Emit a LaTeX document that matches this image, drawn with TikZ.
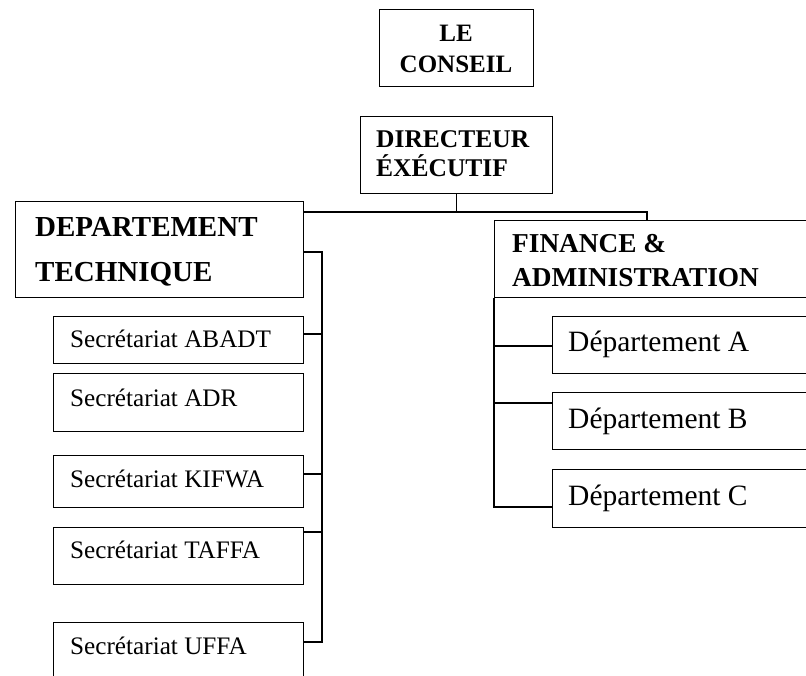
\documentclass[tikz,border=0pt]{standalone}
\usepackage{fontspec}
\setmainfont{Liberation Serif}
\begin{document}
\begin{tikzpicture}[x=1pt,y=-1pt,
  box/.style={draw,line width=1.3pt,inner sep=0pt,anchor=north west},
  ln/.style={line width=1.3pt},
  bigb/.style={anchor=base west,inner sep=0pt,font=\bfseries\fontsize{25.5}{30}\selectfont},
  bigc/.style={anchor=base,inner sep=0pt,font=\bfseries\fontsize{25}{30}\selectfont},
  hugeb/.style={anchor=base west,inner sep=0pt,font=\bfseries\fontsize{29}{34}\selectfont},
  finb/.style={anchor=base west,inner sep=0pt,font=\bfseries\fontsize{27.3}{32}\selectfont},
  sec/.style={anchor=base west,inner sep=0pt,font=\fontsize{25.2}{30}\selectfont},
  dep/.style={anchor=base west,inner sep=0pt,font=\fontsize{29.5}{34}\selectfont}]
\useasboundingbox (0,0) rectangle (806,676);
\clip (0,0) rectangle (806,676);
% boxes
\node[box,minimum width=154pt,minimum height=77pt] (conseil) at (379,9) {};
\node[box,minimum width=192pt,minimum height=77pt] (dir) at (360,116) {};
\node[box,minimum width=288pt,minimum height=96pt] (tech) at (15,201) {};
\node[box,minimum width=336pt,minimum height=77pt] (fin) at (494,220) {};
\node[box,minimum width=250pt,minimum height=47pt] (abadt) at (53,316) {};
\node[box,minimum width=250pt,minimum height=58pt] (adr) at (53,373) {};
\node[box,minimum width=250pt,minimum height=52pt] (kifwa) at (53,455) {};
\node[box,minimum width=250pt,minimum height=57pt] (taffa) at (53,527) {};
\node[box,minimum width=250pt,minimum height=78pt] (uffa) at (53,622) {};
\node[box,minimum width=278pt,minimum height=57pt] (da) at (552,316) {};
\node[box,minimum width=278pt,minimum height=57pt] (db) at (552,392) {};
\node[box,minimum width=278pt,minimum height=58pt] (dc) at (552,469) {};
% texts
\node[bigc] (t1) at (456,42) {LE};
\node[bigc] (t2) at (456,73) {CONSEIL};
\node[bigb] (t3) at (376,148) {DIRECTEUR};
\node[bigb] (t4) at (376,177) {ÉXÉCUTIF};
\node[hugeb] (t5) at (35,237) {DEPARTEMENT};
\node[hugeb] (t6) at (35,282) {TECHNIQUE};
\node[finb] (t7) at (512,253) {FINANCE \&};
\node[finb] (t8) at (512,287) {ADMINISTRATION};
\node[sec] (t9) at (70,348) {Secrétariat ABADT};
\node[sec] (t10) at (70,406) {Secrétariat ADR};
\node[sec] (t11) at (70,487) {Secrétariat KIFWA};
\node[sec] (t12) at (70,558) {Secrétariat TAFFA};
\node[sec] (t13) at (70,654) {Secrétariat UFFA};
\node[dep] (t14) at (568,352) {Département A};
\node[dep] (t15) at (568,428) {Département B};
\node[dep] (t16) at (568,505) {Département C};
% connectors
\coordinate (bus) at (dir.south |- 0,212);
\coordinate (finjoin) at (647,212);
\draw[ln] (dir.south) -- (bus);
\draw[ln] (bus -| tech.east) -- (finjoin) -- (finjoin |- fin.north);
\coordinate (spine) at (322,252);
\coordinate (s1) at (322,334);
\coordinate (s3) at (322,474);
\coordinate (s4) at (322,532);
\coordinate (s5) at (322,642);
\draw[ln] (spine -| tech.east) -- (spine) -- (s5) -- (s5 -| uffa.east);
\draw[ln] (s1 -| abadt.east) -- (s1);
\draw[ln] (s3 -| kifwa.east) -- (s3);
\draw[ln] (s4 -| taffa.east) -- (s4);
\coordinate (f1) at (494,346);
\coordinate (f2) at (494,403);
\coordinate (f3) at (494,507);
\draw[ln] (fin.south west) -- (f3) -- (f3 -| dc.west);
\draw[ln] (f1) -- (f1 -| da.west);
\draw[ln] (f2) -- (f2 -| db.west);
\end{tikzpicture}
\end{document}
